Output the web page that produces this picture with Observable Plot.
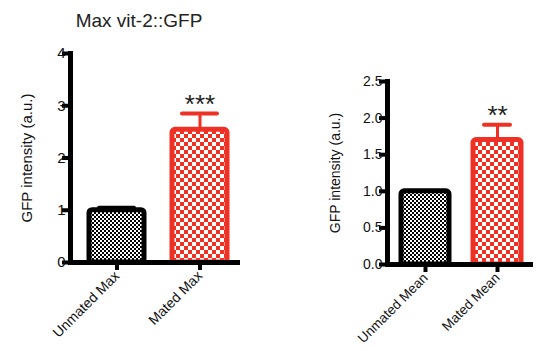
<!DOCTYPE html>
<html><head><meta charset="utf-8">
<script src="https://cdn.jsdelivr.net/npm/d3@7"></script>
<script src="https://cdn.jsdelivr.net/npm/@observablehq/plot@0.6"></script>
<style>
body{margin:0;background:#fff;font-family:"Liberation Sans",Arial,sans-serif;}
#wrap{position:relative;width:541px;height:351px;overflow:hidden;background:#fff}
#title{position:absolute;left:39px;width:200px;top:11px;line-height:19px;text-align:center;font-size:19px;color:#222}
#left{position:absolute;left:0;top:30px;width:270px;height:321px}
#right{position:absolute;left:270px;top:30px;width:271px;height:321px}
</style></head><body>
<svg width="0" height="0" style="position:absolute">
<defs>
<pattern id="chkBlack" width="4" height="4" patternUnits="userSpaceOnUse">
<rect width="4" height="4" fill="#fff"/><rect width="2" height="2" fill="#000"/><rect x="2" y="2" width="2" height="2" fill="#000"/>
</pattern>
<pattern id="chkRed" width="8" height="8" patternUnits="userSpaceOnUse">
<rect width="8" height="8" fill="#fff"/><rect width="4" height="4" fill="#ee3124"/><rect x="4" y="4" width="4" height="4" fill="#ee3124"/>
</pattern>
</defs></svg>
<div id="wrap">
<div id="title"></div>
<div id="left"></div>
<div id="right"></div>
</div>
<script>
// ---- data ----
const maxTitle = "Max vit-2::GFP";
const yLabel = "GFP intensity (a.u.)";
const maxCategories = ["Unmated Max", "Mated Max"];
const maxValues = [1.0, 2.54];
const maxErrors = [0.05, 0.31];
const maxStars = ["", "***"];
const maxTicks = [0, 1, 2, 3, 4];

const meanCategories = ["Unmated Mean", "Mated Mean"];
const meanValues = [1.0, 1.70];
const meanErrors = [0.0, 0.21];
const meanStars = ["", "**"];
const meanTicks = [0, 0.5, 1.0, 1.5, 2.0, 2.5];

const RED = "#ee3124";
const strokes = ["#000", RED];
const fills = ["url(#chkBlack)", "url(#chkRed)"];
const FONT = "'Liberation Sans', Arial, sans-serif";

document.getElementById("title").textContent = maxTitle;

function panel(o) {
  const data = o.cats.map((c, i) => ({
    cat: c, v: o.vals[i], e: o.errs[i], top: o.vals[i] + o.errs[i],
    star: o.stars[i], stroke: strokes[i], fill: fills[i]
  }));
  const withErr = data.filter(d => d.e > 0);
  return Plot.plot({
    width: o.width, height: o.height,
    marginLeft: o.ml, marginRight: o.mr, marginTop: o.mt, marginBottom: o.mb,
    style: {fontFamily: FONT, color: "#000", background: "transparent", overflow: "visible"},
    x: {type: "band", domain: o.cats, range: o.xRange, paddingInner: 0.34, paddingOuter: 0.5},
    y: {domain: o.yDomain},
    color: {type: "identity"},
    marks: [
      Plot.ruleX(withErr, {x: "cat", y1: "v", y2: "top", stroke: "stroke", strokeWidth: 3}),
      Plot.tickY(withErr, {x: "cat", y: "top", stroke: "stroke", strokeWidth: 4, insetLeft: o.capInset, insetRight: o.capInset, strokeLinecap: "round"}),
      Plot.barY(data, {x: "cat", y: "v", fill: "fill", stroke: "stroke", strokeWidth: 5, rx: 3}),
      Plot.frame({anchor: "left", strokeWidth: 5, stroke: "#000"}),
      Plot.ruleY([0], {strokeWidth: 5, stroke: "#000"}),
      Plot.axisY(o.ticks, {tickFormat: o.tickFormat, tickSize: 8, tickPadding: -3, strokeWidth: 4, fontSize: o.tickFont,
        fontFamily: FONT, fill: "#111", label: yLabel, labelArrow: "none", labelAnchor: "center", labelOffset: o.labelOffset}),
      Plot.axisX({tickSize: 8, tickRotate: -45, strokeWidth: 4, fontSize: o.catFont, fontFamily: FONT, fill: "#111", label: null, tickPadding: 3}),
      Plot.text(data.filter(d => d.star), {x: "cat", y: "top", text: "star", dy: -9, fontSize: 26, fontFamily: FONT, fill: "#222"})
    ]
  });
}

const leftChart = panel({
  cats: maxCategories, vals: maxValues, errs: maxErrors, stars: maxStars, ticks: maxTicks,
  yDomain: [0, 4], tickFormat: d3.format("d"),
  width: 270, height: 321, ml: 70, mr: 30, mt: 23, mb: 89,
  xRange: [47, 268], capInset: 10, labelOffset: 49, tickFont: 15, catFont: 14
});
document.getElementById("left").append(leftChart);

const rightChart = panel({
  cats: meanCategories, vals: meanValues, errs: meanErrors, stars: meanStars, ticks: meanTicks,
  yDomain: [0, 2.5], tickFormat: d3.format(".1f"),
  width: 271, height: 321, ml: 117, mr: 8, mt: 51, mb: 87,
  xRange: [94.7, 286.8], capInset: 11, labelOffset: 57, tickFont: 14, catFont: 13.5
});
document.getElementById("right").append(rightChart);
</script>
</body></html>
